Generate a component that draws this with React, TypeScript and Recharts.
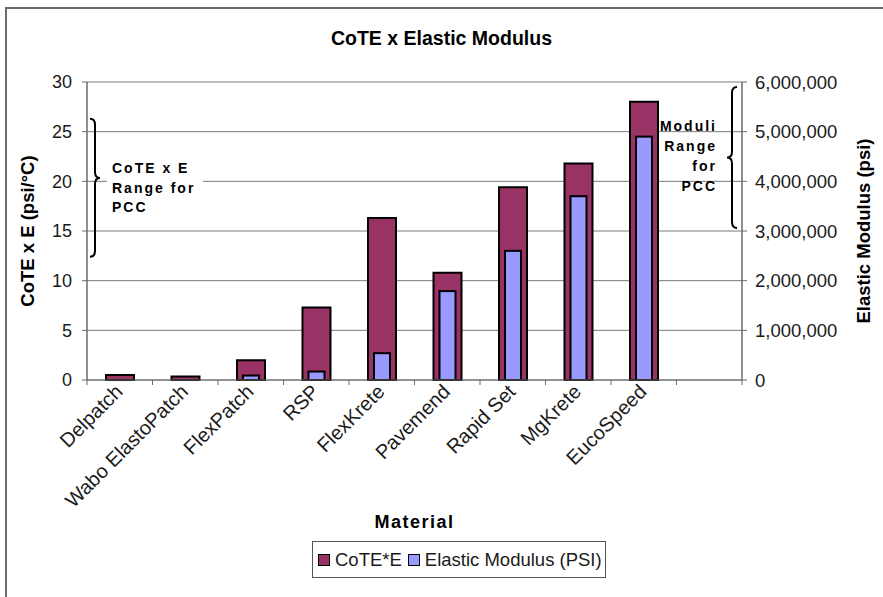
import React from 'react';
import { BarChart, Bar, XAxis, YAxis, CartesianGrid, Legend, ReferenceArea } from 'recharts';

const materials = ['Delpatch', 'Wabo ElastoPatch', 'FlexPatch', 'RSP', 'FlexKrete', 'Pavemend', 'Rapid Set', 'MgKrete', 'EucoSpeed', ''];
const coteE = [0.5, 0.35, 2.0, 7.3, 16.3, 10.8, 19.4, 21.8, 28.0, null];
const elasticModulus = [null, null, 90000, 170000, 540000, 1790000, 2600000, 3700000, 4900000, null];
const leftTicks = [0, 5, 10, 15, 20, 25, 30];
const rightTicks = [0, 1000000, 2000000, 3000000, 4000000, 5000000, 6000000];
const pccCoteRange = [12.4, 26.3];
const pccModuliRange = [3060000, 5900000];
const pccCoteLines = ['CoTE x E', 'Range for', 'PCC'];
const pccModuliLines = ['Moduli', 'Range', 'for', 'PCC'];

const data = materials.map((name, i) => ({ name, cote: coteE[i], modulus: elasticModulus[i] }));

const FONT = '"Liberation Sans", Arial, Helvetica, sans-serif';
const GRID = '#7a7a7a';
const AXIS = '#6b6b6b';
const TXT = '#1a1a1a';

const bracePath = (x0: number, dir: number, top: number, bottom: number, tipY: number) => {
  const x1 = x0 + dir * 5;
  const x2 = x0 + dir * 10;
  const r = 6;
  return `M${x0},${top} Q${x1},${top} ${x1},${top + r} L${x1},${tipY - r} Q${x1},${tipY} ${x2},${tipY} Q${x1},${tipY} ${x1},${tipY + r} L${x1},${bottom - r} Q${x1},${bottom} ${x0},${bottom}`;
};

const LeftBrace = (p: any) => {
  const { x, y, height } = p;
  const tipY = y + height * 0.43;
  return (
    <g>
      <rect x={x + 20} y={tipY - 20} width={96} height={60} fill="#fff" />
      <path d={bracePath(x + 3, 1, y, y + height, tipY)} fill="none" stroke="#000" strokeWidth={2} />
      {pccCoteLines.map((t, i) => (
        <text key={i} x={x + 25} y={tipY - 5 + i * 19.5} fontFamily={FONT} fontSize={14} fontWeight="bold" letterSpacing={2} fill="#000">{t}</text>
      ))}
    </g>
  );
};

const RightBrace = (p: any) => {
  const { x, y, width, height } = p;
  const tipY = y + height * 0.5;
  const right = x + width;
  return (
    <g>
      <path d={bracePath(right - 5, -1, y, y + height, tipY)} fill="none" stroke="#000" strokeWidth={2} />
      {pccModuliLines.map((t, i) => (
        <text key={i} x={right - 25} y={tipY - 26 + i * 20} textAnchor="end" fontFamily={FONT} fontSize={14} fontWeight="bold" letterSpacing={2} fill="#000">{t}</text>
      ))}
    </g>
  );
};

const NarrowBar = (p: any) => {
  const { x, y, width, height, fill } = p;
  if (height == null || width == null) return null;
  const inset = 6;
  return <rect x={x + inset} y={y} width={width - inset * 2} height={height} fill={fill} stroke="#000" strokeWidth={2} />;
};

const MaterialTick = (p: any) => {
  const { x, y, payload, index, visibleTicksCount } = p;
  const off = payload.offset ?? 0;
  const last = index === visibleTicksCount - 1;
  return (
    <g>
      <line x1={x - off} x2={x - off} y1={y} y2={y + 5} stroke={AXIS} />
      {last && <line x1={x + off} x2={x + off} y1={y} y2={y + 5} stroke={AXIS} />}
      <text transform={`translate(${x + 4},${y + 13}) rotate(-45)`} textAnchor="end" fontFamily={FONT} fontSize={20} fill={TXT}>{payload.value}</text>
    </g>
  );
};

const LegendBox = (p: any) => {
  const items = p.payload || [];
  return (
    <div style={{ display: 'inline-flex', alignItems: 'center', height: 37, boxSizing: 'border-box', border: '1px solid #555', background: '#fff', padding: '0 3px 0 5px', fontFamily: FONT, fontSize: 18.5, color: TXT, whiteSpace: 'nowrap' }}>
      {items.map((it: any, i: number) => (
        <span key={i} style={{ display: 'inline-flex', alignItems: 'center', marginRight: i < items.length - 1 ? 6 : 0 }}>
          <span style={{ display: 'inline-block', width: 10, height: 10, border: '1px solid #000', background: it.color, marginRight: 5 }} />
          {it.value}
        </span>
      ))}
    </div>
  );
};

export default function App() {
  return (
    <div style={{ position: 'absolute', left: 0, top: 0, width: 883, height: 597, overflow: 'hidden', background: '#fff' }}>
      <div style={{ position: 'absolute', left: 5, top: 7, width: 1000, height: 1000, borderTop: '2px solid #6b6b6b', borderLeft: '2px solid #6b6b6b' }} />
      <div style={{ position: 'absolute', left: 0, top: 27, width: 883, textAlign: 'center', fontFamily: FONT, fontSize: 19.5, fontWeight: 'bold', lineHeight: '22px', color: '#000' }}>
        CoTE x Elastic Modulus
      </div>
      <div style={{ position: 'absolute', left: 0, top: 0 }}>
        <BarChart width={883} height={597} data={data} margin={{ top: 82, right: 0, bottom: 19, left: 0 }} barGap={-28}>
          <CartesianGrid yAxisId="left" vertical={false} stroke={GRID} />
          <XAxis
            dataKey="name"
            height={161}
            tickLine={false}
            tickSize={0}
            tickMargin={0}
            axisLine={{ stroke: AXIS }}
            tick={<MaterialTick />}
            interval={0}
            label={{
              content: (lp: any) => {
                const vb = lp.viewBox || {};
                return (
                  <text x={vb.x + vb.width / 2} y={vb.y + 148} textAnchor="middle" fontFamily={FONT} fontSize={18} fontWeight="bold" letterSpacing={1.5} fill="#000">Material</text>
                );
              },
            }}
          />
          <YAxis
            yAxisId="left"
            orientation="left"
            width={87}
            domain={[0, 30]}
            ticks={leftTicks}
            interval={0}
            tickSize={5}
            tickMargin={10}
            tick={{ fontFamily: FONT, fontSize: 18, fill: TXT }}
            tickLine={{ stroke: AXIS }}
            axisLine={{ stroke: AXIS, strokeWidth: 1.5 }}
            label={{
              content: (lp: any) => {
                const vb = lp.viewBox || {};
                const cx = vb.x + 27;
                const cy = vb.y + vb.height / 2;
                return (
                  <text x={cx} y={cy} transform={`rotate(-90, ${cx}, ${cy})`} textAnchor="middle" dominantBaseline="central" fontFamily={FONT} fontSize={18.5} fontWeight="bold" fill="#000">CoTE x E (psi/°C)</text>
                );
              },
            }}
          />
          <YAxis
            yAxisId="right"
            orientation="right"
            width={141}
            domain={[0, 6000000]}
            ticks={rightTicks}
            interval={0}
            tickSize={5}
            tickMargin={8}
            tickFormatter={(v: number) => v.toLocaleString('en-US')}
            tick={{ fontFamily: FONT, fontSize: 18.5, fill: TXT }}
            tickLine={{ stroke: AXIS }}
            axisLine={{ stroke: AXIS, strokeWidth: 1.5 }}
            label={{
              content: (lp: any) => {
                const vb = lp.viewBox || {};
                const cx = vb.x + 121;
                const cy = vb.y + vb.height / 2;
                return (
                  <text x={cx} y={cy} transform={`rotate(-90, ${cx}, ${cy})`} textAnchor="middle" dominantBaseline="central" fontFamily={FONT} fontSize={18.5} fontWeight="bold" fill="#000">Elastic Modulus (psi)</text>
                );
              },
            }}
          />
          <Legend
            verticalAlign="bottom"
            content={<LegendBox />}
            wrapperStyle={{ left: 312, width: 340, bottom: 19, height: 37 }}
          />
          <Bar yAxisId="left" dataKey="cote" name="CoTE*E" fill="#993366" stroke="#000" strokeWidth={2} barSize={28} isAnimationActive={false} />
          <Bar yAxisId="right" dataKey="modulus" name="Elastic Modulus (PSI)" fill="#9999ff" stroke="#000" strokeWidth={2} barSize={28} shape={NarrowBar} isAnimationActive={false} />
          <ReferenceArea yAxisId="left" y1={pccCoteRange[0]} y2={pccCoteRange[1]} shape={(p: any) => <LeftBrace {...p} />} ifOverflow="visible" />
          <ReferenceArea yAxisId="right" y1={pccModuliRange[0]} y2={pccModuliRange[1]} shape={(p: any) => <RightBrace {...p} />} ifOverflow="visible" />
        </BarChart>
      </div>
    </div>
  );
}
